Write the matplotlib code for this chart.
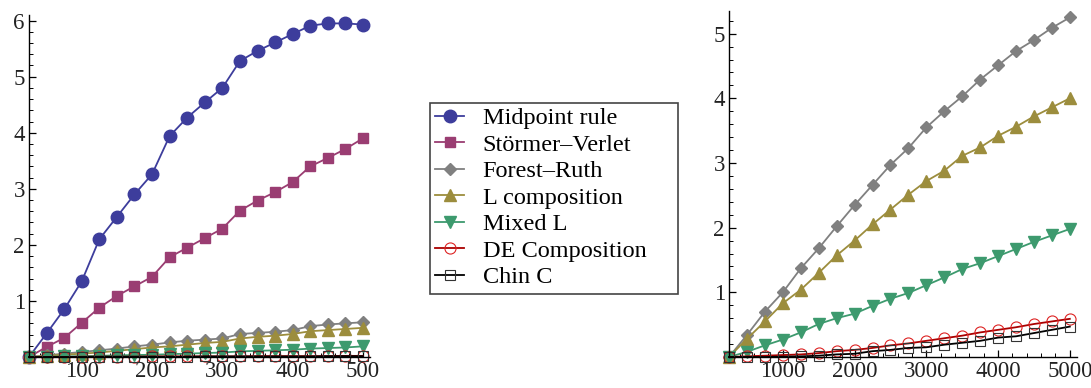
import matplotlib
matplotlib.use("Agg")
from matplotlib import pyplot as plt
from matplotlib.patches import Rectangle
from matplotlib.ticker import MultipleLocator

plt.rcParams["font.family"] = ["Liberation Serif", "DejaVu Serif"]

# left panel: n = 25 .. 500
n_left = [25, 50, 75, 100, 125, 150, 175, 200, 225, 250,
          275, 300, 325, 350, 375, 400, 425, 450, 475, 500]
midpoint = [0.0, 0.42, 0.85, 1.35, 2.10, 2.50, 2.90, 3.26, 3.94, 4.27,
            4.54, 4.80, 5.28, 5.46, 5.61, 5.76, 5.91, 5.95, 5.95, 5.93]
stormer = [0.0, 0.18, 0.34, 0.61, 0.88, 1.09, 1.26, 1.43, 1.78, 1.95,
           2.12, 2.29, 2.61, 2.79, 2.94, 3.12, 3.40, 3.55, 3.71, 3.90]
forest_l = [0.0, 0.03, 0.06, 0.09, 0.12, 0.15, 0.19, 0.22, 0.26, 0.29,
            0.31, 0.33, 0.41, 0.43, 0.45, 0.48, 0.55, 0.58, 0.60, 0.62]
lcomp_l = [0.0, 0.02, 0.04, 0.06, 0.08, 0.11, 0.14, 0.17, 0.19, 0.22,
           0.25, 0.27, 0.33, 0.36, 0.38, 0.41, 0.46, 0.48, 0.50, 0.52]
mixed_l = [0.0, 0.005, 0.01, 0.015, 0.02, 0.03, 0.035, 0.04, 0.05, 0.06,
           0.07, 0.08, 0.10, 0.11, 0.12, 0.13, 0.15, 0.16, 0.17, 0.19]
decomp_l = [0.0, 0.0, 0.0, 0.005, 0.005, 0.005, 0.005, 0.01, 0.01, 0.01,
            0.01, 0.01, 0.01, 0.015, 0.015, 0.015, 0.015, 0.015, 0.02, 0.02]
chin_l = [0.0, 0.0, 0.0, 0.0, 0.005, 0.005, 0.005, 0.005, 0.005, 0.005,
          0.01, 0.01, 0.01, 0.01, 0.01, 0.01, 0.01, 0.015, 0.015, 0.015]

# right panel: n = 250 .. 5000
n_right = [250, 500, 750, 1000, 1250, 1500, 1750, 2000, 2250, 2500,
           2750, 3000, 3250, 3500, 3750, 4000, 4250, 4500, 4750, 5000]
forest_r = [0.0, 0.34, 0.70, 1.00, 1.37, 1.68, 2.02, 2.35, 2.66, 2.97,
            3.23, 3.55, 3.80, 4.03, 4.29, 4.51, 4.73, 4.90, 5.09, 5.25]
lcomp_r = [0.0, 0.28, 0.55, 0.83, 1.04, 1.30, 1.57, 1.80, 2.05, 2.28,
           2.51, 2.72, 2.88, 3.11, 3.24, 3.42, 3.56, 3.72, 3.86, 4.00]
mixed_r = [0.0, 0.08, 0.18, 0.27, 0.38, 0.51, 0.60, 0.67, 0.79, 0.90,
           0.99, 1.11, 1.23, 1.36, 1.45, 1.56, 1.67, 1.78, 1.88, 1.98]
decomp_r = [0.0, 0.01, 0.02, 0.03, 0.04, 0.06, 0.09, 0.11, 0.14, 0.18,
            0.21, 0.25, 0.29, 0.33, 0.38, 0.42, 0.46, 0.51, 0.55, 0.59]
chin_r = [0.0, 0.0, 0.0, 0.005, 0.01, 0.02, 0.04, 0.05, 0.09, 0.11,
          0.14, 0.15, 0.19, 0.22, 0.25, 0.30, 0.32, 0.37, 0.42, 0.47]

labels = ["Midpoint rule", "Störmer\u2013Verlet", "Forest\u2013Ruth",
          "L composition", "Mixed L", "DE Composition", "Chin C"]

blue = "#3d3d9c"
purple = "#9a3d72"
grey = "#808080"
olive = "#9c8d3d"
green = "#3d9a6e"

styles = [
    dict(color=blue, marker="o", ms=9, mfc=blue, mec=blue),
    dict(color=purple, marker="s", ms=7.5, mfc=purple, mec=purple),
    dict(color=grey, marker="D", ms=6, mfc=grey, mec=grey),
    dict(color=olive, marker="^", ms=8, mfc=olive, mec=olive),
    dict(color=green, marker="v", ms=8, mfc=green, mec=green),
    dict(color="#aa0000", marker="o", ms=8, mfc="none", mec="#dd2222", mew=0.8),
    dict(color="black", marker="s", ms=7, mfc="none", mec="#333333", mew=0.8),
]

fig = plt.figure(figsize=(10.91, 3.88), dpi=100)
ax1 = fig.add_axes([29 / 1091, 31 / 388, 341 / 1091, 342 / 388])
ax2 = fig.add_axes([729 / 1091, 31 / 388, 348 / 1091, 346 / 388])

left_series = [midpoint, stormer, forest_l, lcomp_l, mixed_l, decomp_l, chin_l]
handles = []
for vals, st, lab in zip(left_series, styles, labels):
    h, = ax1.plot(n_left, vals, lw=1.3, label=lab, clip_on=False, **st)
    handles.append(h)

right_series = [forest_r, lcomp_r, mixed_r, decomp_r, chin_r]
for vals, st in zip(right_series, styles[2:]):
    ax2.plot(n_right, vals, lw=1.3, clip_on=False, **st)

ax1.set_yticks([1, 2, 3, 4, 5, 6])
ax1.set_xlim(25, 510)
ax1.set_ylim(0, 6.1)
ax1.xaxis.set_major_locator(MultipleLocator(100))
ax1.xaxis.set_minor_locator(MultipleLocator(20))
ax1.yaxis.set_minor_locator(MultipleLocator(0.2))

ax2.set_yticks([1, 2, 3, 4, 5])
ax2.set_xlim(250, 5100)
ax2.set_ylim(0, 5.35)
ax2.xaxis.set_major_locator(MultipleLocator(1000))
ax2.xaxis.set_minor_locator(MultipleLocator(200))
ax2.yaxis.set_minor_locator(MultipleLocator(0.2))

for ax in (ax1, ax2):
    ax.spines["top"].set_visible(False)
    ax.spines["right"].set_visible(False)
    ax.spines["left"].set_linewidth(1.0)
    ax.spines["bottom"].set_linewidth(1.0)
    ax.tick_params(which="major", direction="in", length=5, width=0.9,
                   labelsize=16.5, pad=3, labelcolor="#222222")
    ax.tick_params(which="minor", direction="in", length=3, width=0.7)
    ax.set_facecolor("none")

# legend box drawn separately so it can be wider than the text
fig.patches.append(Rectangle((430 / 1091, 1 - 294 / 388), 248 / 1091, 191 / 388,
                             transform=fig.transFigure, fill=False,
                             edgecolor="#444444", linewidth=1.2))
leg = fig.legend(handles=handles, loc="upper left",
                 bbox_to_anchor=(428 / 1091, 288 / 388),
                 borderaxespad=0, fontsize=17.5, frameon=False,
                 handlelength=1.2, handletextpad=0.75, labelspacing=0.185,
                 borderpad=0.3)

fig.savefig("out.png", dpi=100)
